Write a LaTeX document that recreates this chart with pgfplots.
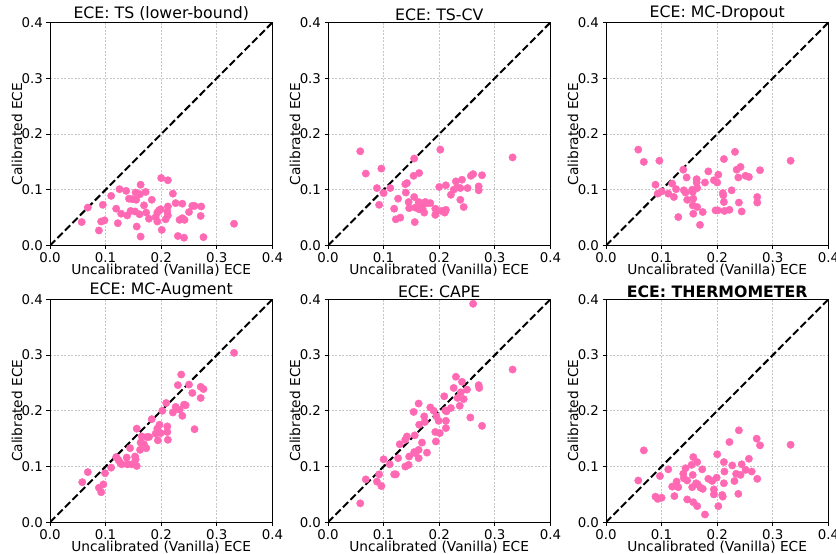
\documentclass[border=0pt]{standalone}
\usepackage{pgfplots}
\pgfplotsset{compat=1.18}
\usepackage{fontspec}
\setmainfont{DejaVu Sans}
\definecolor{ptcol}{HTML}{FF69B4}
\pgfplotsset{ece/.style={
  scale only axis, width=222.4bp, height=223bp,
  xmin=0, xmax=0.4, ymin=0, ymax=0.4,
  xtick={0,0.1,0.2,0.3,0.4}, ytick={0,0.1,0.2,0.3,0.4},
  /pgf/number format/assume math mode=true,
  /pgf/number format/fixed, /pgf/number format/precision=1, /pgf/number format/fixed zerofill,
  tick label style={font=\fontsize{13.4}{15}\selectfont, black},
  label style={font=\fontsize{13.8}{15}\selectfont},
  title style={font=\fontsize{15.8}{18}\selectfont, yshift=-8bp},
  xlabel={Uncalibrated (Vanilla) ECE}, ylabel={Calibrated ECE},
  tick align=outside, major tick length=3.5bp, tick style={black, line width=0.8bp},
  xtick pos=bottom, ytick pos=left,
  axis line style={black, line width=0.8bp},
  grid=major, grid style={gray!45, line width=0.7bp, dash pattern=on 2bp off 1.5bp},
  xlabel style={yshift=5bp}, ylabel style={yshift=-7.5bp},
}, pts/.style={only marks, mark=*, mark size=3.7bp, color=ptcol}}
\newcommand{\diag}{\addplot[black, line width=2bp, dash pattern=on 7.4bp off 3.2bp] coordinates {(0,0) (0.4,0.4)};}
\begin{document}
\begin{tikzpicture}
\path[use as bounding box] (0,0) rectangle (836bp,554bp);
% Panel 1
\begin{axis}[ece, at={(50bp,308.5bp)}, anchor=south west, title={ECE: TS (lower-bound)}]
\addplot[pts] table {
0.057 0.042
0.068 0.068
0.088 0.027
0.092 0.043
0.098 0.045
0.095 0.073
0.110 0.089
0.119 0.066
0.122 0.040
0.125 0.101
0.128 0.057
0.137 0.098
0.139 0.054
0.142 0.084
0.145 0.062
0.148 0.083
0.153 0.061
0.154 0.095
0.155 0.082
0.156 0.034
0.161 0.056
0.162 0.092
0.163 0.109
0.163 0.016
0.169 0.072
0.172 0.096
0.173 0.059
0.178 0.048
0.183 0.082
0.190 0.051
0.193 0.043
0.193 0.059
0.196 0.063
0.199 0.065
0.200 0.121
0.201 0.028
0.208 0.047
0.211 0.061
0.212 0.117
0.212 0.070
0.212 0.054
0.221 0.093
0.226 0.076
0.230 0.017
0.233 0.046
0.238 0.075
0.238 0.049
0.241 0.014
0.242 0.046
0.250 0.060
0.256 0.071
0.260 0.071
0.271 0.053
0.272 0.070
0.276 0.015
0.331 0.039
};
\diag
\end{axis}
% Panel 2
\begin{axis}[ece, at={(328bp,308.5bp)}, anchor=south west, title={ECE: TS-CV}]
\addplot[pts] table {
0.058 0.169
0.068 0.129
0.088 0.103
0.092 0.073
0.096 0.138
0.100 0.094
0.112 0.103
0.119 0.066
0.122 0.047
0.126 0.084
0.130 0.050
0.139 0.110
0.140 0.095
0.142 0.112
0.145 0.078
0.146 0.067
0.154 0.125
0.155 0.087
0.155 0.156
0.156 0.042
0.157 0.068
0.163 0.078
0.164 0.130
0.164 0.065
0.168 0.070
0.170 0.066
0.173 0.059
0.175 0.078
0.178 0.076
0.184 0.076
0.193 0.066
0.193 0.055
0.196 0.063
0.200 0.105
0.202 0.172
0.204 0.062
0.210 0.059
0.212 0.108
0.212 0.064
0.221 0.091
0.226 0.100
0.230 0.115
0.232 0.104
0.238 0.082
0.238 0.103
0.241 0.118
0.244 0.069
0.251 0.103
0.257 0.125
0.261 0.128
0.271 0.106
0.271 0.099
0.277 0.126
0.332 0.158
};
\diag
\end{axis}
% Panel 3
\begin{axis}[ece, at={(606bp,308.5bp)}, anchor=south west, title={ECE: MC-Dropout}]
\addplot[pts] table {
0.058 0.172
0.068 0.150
0.096 0.152
0.089 0.109
0.093 0.093
0.100 0.097
0.112 0.093
0.119 0.111
0.122 0.087
0.126 0.101
0.130 0.051
0.139 0.136
0.140 0.099
0.143 0.095
0.145 0.122
0.146 0.082
0.155 0.100
0.156 0.096
0.157 0.084
0.156 0.072
0.157 0.057
0.163 0.119
0.163 0.113
0.164 0.103
0.164 0.069
0.169 0.037
0.174 0.060
0.184 0.133
0.178 0.113
0.194 0.117
0.197 0.063
0.200 0.113
0.202 0.127
0.201 0.063
0.210 0.094
0.211 0.090
0.212 0.155
0.212 0.078
0.213 0.062
0.222 0.064
0.226 0.099
0.232 0.168
0.235 0.136
0.238 0.122
0.239 0.077
0.242 0.141
0.244 0.061
0.251 0.125
0.257 0.123
0.272 0.087
0.272 0.077
0.277 0.135
0.332 0.152
};
\diag
\end{axis}
% Panel 4
\begin{axis}[ece, at={(50bp,31.7bp)}, anchor=south west, title={ECE: MC-Augment}]
\addplot[pts] table {
0.058 0.072
0.068 0.090
0.088 0.062
0.092 0.054
0.096 0.068
0.099 0.088
0.110 0.098
0.119 0.117
0.123 0.112
0.126 0.107
0.129 0.104
0.138 0.116
0.139 0.104
0.144 0.133
0.147 0.104
0.153 0.118
0.154 0.113
0.156 0.101
0.156 0.168
0.162 0.130
0.163 0.143
0.165 0.154
0.169 0.140
0.173 0.133
0.174 0.153
0.178 0.153
0.183 0.185
0.190 0.159
0.193 0.168
0.194 0.147
0.197 0.175
0.199 0.160
0.202 0.200
0.209 0.214
0.211 0.172
0.211 0.162
0.212 0.148
0.221 0.197
0.226 0.207
0.230 0.246
0.233 0.202
0.236 0.265
0.238 0.191
0.241 0.211
0.244 0.210
0.250 0.247
0.256 0.232
0.260 0.167
0.271 0.223
0.271 0.243
0.276 0.239
0.331 0.304
};
\diag
\end{axis}
% Panel 5
\begin{axis}[ece, at={(328bp,31.7bp)}, anchor=south west, title={ECE: CAPE}]
\addplot[pts] table {
0.058 0.034
0.068 0.077
0.088 0.073
0.092 0.086
0.096 0.065
0.100 0.113
0.111 0.104
0.119 0.086
0.122 0.086
0.126 0.115
0.129 0.140
0.139 0.100
0.139 0.148
0.142 0.154
0.145 0.103
0.146 0.118
0.154 0.198
0.155 0.126
0.156 0.156
0.157 0.124
0.163 0.130
0.163 0.115
0.164 0.175
0.163 0.213
0.169 0.143
0.173 0.190
0.174 0.180
0.178 0.125
0.184 0.206
0.190 0.200
0.193 0.162
0.194 0.145
0.195 0.190
0.199 0.182
0.201 0.160
0.209 0.226
0.211 0.201
0.212 0.182
0.212 0.169
0.213 0.199
0.221 0.205
0.226 0.241
0.230 0.261
0.233 0.223
0.237 0.209
0.239 0.233
0.241 0.252
0.244 0.221
0.250 0.238
0.256 0.188
0.261 0.392
0.271 0.246
0.272 0.241
0.277 0.173
0.332 0.274
};
\diag
\end{axis}
% Panel 6
\begin{axis}[ece, at={(606bp,31.7bp)}, anchor=south west, title={\bfseries ECE: THERMOMETER}]
\addplot[pts] table {
0.058 0.075
0.068 0.129
0.089 0.046
0.093 0.042
0.100 0.044
0.097 0.083
0.112 0.095
0.119 0.064
0.123 0.047
0.127 0.073
0.130 0.063
0.139 0.087
0.140 0.079
0.143 0.097
0.146 0.041
0.146 0.075
0.154 0.103
0.155 0.063
0.156 0.085
0.157 0.117
0.157 0.036
0.162 0.070
0.164 0.029
0.164 0.108
0.165 0.068
0.170 0.062
0.173 0.095
0.174 0.060
0.178 0.014
0.184 0.078
0.191 0.074
0.194 0.059
0.194 0.050
0.199 0.080
0.200 0.122
0.202 0.029
0.209 0.049
0.210 0.046
0.213 0.091
0.212 0.108
0.212 0.070
0.222 0.144
0.227 0.102
0.231 0.074
0.234 0.087
0.238 0.051
0.239 0.165
0.242 0.085
0.244 0.104
0.251 0.094
0.257 0.114
0.262 0.091
0.271 0.150
0.272 0.078
0.277 0.138
0.332 0.139
};
\diag
\end{axis}
\end{tikzpicture}
\end{document}
